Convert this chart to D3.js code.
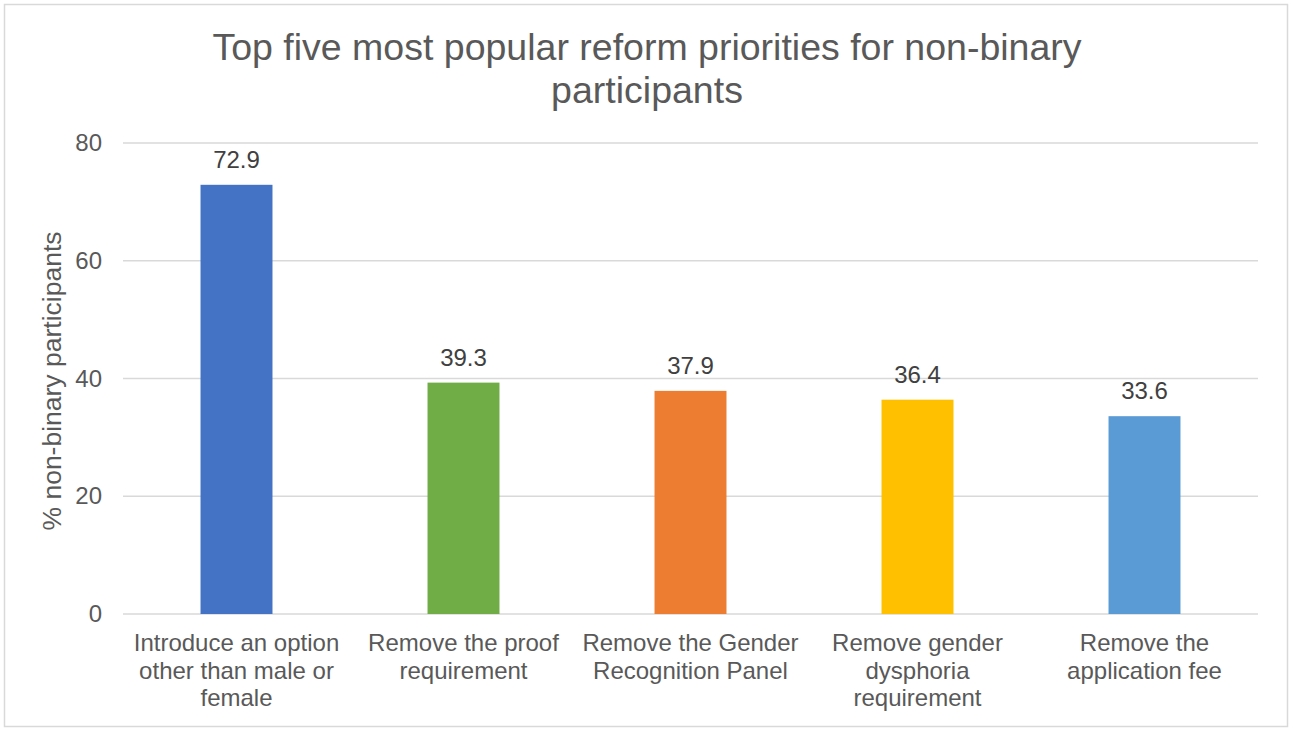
<!DOCTYPE html>
<html>
<head>
<meta charset="utf-8">
<script src="https://cdn.jsdelivr.net/npm/d3@7"></script>
<style>
	body { margin: 0; background: #fff; }
	text { font-family: "Liberation Sans", Arial, sans-serif; }
</style>
</head>
<body>
<script>
var categories = [
	'Introduce an option\nother than male or\nfemale',
	'Remove the proof\nrequirement',
	'Remove the Gender\nRecognition Panel',
	'Remove gender\ndysphoria\nrequirement',
	'Remove the\napplication fee'
];
var values = [72.9, 39.3, 37.9, 36.4, 33.6];
var barColors = ['#4472C4', '#70AD47', '#ED7D31', '#FFC000', '#5B9BD5'];
var yTicks = [0, 20, 40, 60, 80];
var titleLines = ['Top five most popular reform priorities for non-binary', 'participants'];
var yTitle = '% non-binary participants';

var width = 1294, height = 729;
var margin = { left: 123, right: 1294 - 1258, top: 143, bottom: 729 - 614 };

var svg = d3.select('body')
	.append('svg')
	.attr('width', width)
	.attr('height', height);

svg.append('rect')
	.attr('x', 4.5)
	.attr('y', 4.5)
	.attr('width', 1283)
	.attr('height', 722)
	.attr('fill', '#fff')
	.attr('stroke', '#d9d9d9')
	.attr('stroke-width', 1.5);

var x = d3.scaleBand()
	.domain(categories)
	.range([margin.left, width - margin.right])
	.padding(0);

var y = d3.scaleLinear()
	.domain([0, 80])
	.range([height - margin.bottom, margin.top]);

var barWidth = x.bandwidth() * 0.317;

// gridlines
svg.append('g')
	.selectAll('line')
	.data(yTicks)
	.enter()
	.append('line')
	.attr('x1', margin.left)
	.attr('x2', width - margin.right)
	.attr('y1', function(d) { return y(d); })
	.attr('y2', function(d) { return y(d); })
	.attr('stroke', '#d9d9d9')
	.attr('stroke-width', 1.5);

// y axis labels
var yAxis = svg.append('g')
	.attr('transform', 'translate(' + margin.left + ',0)')
	.call(d3.axisLeft(y).tickValues(yTicks).tickSize(0).tickPadding(21));
yAxis.select('.domain').remove();
yAxis.selectAll('text')
	.attr('fill', '#595959')
	.style('font-size', '24px')
	.style('font-family', '"Liberation Sans", Arial, sans-serif');

// bars
svg.append('g')
	.selectAll('rect')
	.data(values)
	.enter()
	.append('rect')
	.attr('x', function(d, i) { return x(categories[i]) + (x.bandwidth() - barWidth) / 2; })
	.attr('y', function(d) { return y(d); })
	.attr('width', barWidth)
	.attr('height', function(d) { return y(0) - y(d); })
	.attr('fill', function(d, i) { return barColors[i]; });

// value labels
svg.append('g')
	.selectAll('text')
	.data(values)
	.enter()
	.append('text')
	.text(function(d) { return d.toFixed(1); })
	.attr('text-anchor', 'middle')
	.attr('x', function(d, i) { return x(categories[i]) + x.bandwidth() / 2; })
	.attr('y', function(d) { return y(d) - 17; })
	.attr('fill', '#404040')
	.style('font-size', '24px');

// category labels
var cat = svg.append('g')
	.selectAll('text')
	.data(categories)
	.enter()
	.append('text')
	.attr('text-anchor', 'middle')
	.attr('fill', '#595959')
	.style('font-size', '24px')
	.attr('x', function(d) { return x(d) + x.bandwidth() / 2; })
	.attr('y', 651);

cat.selectAll('tspan')
	.data(function(d) { return d.split('\n'); })
	.enter()
	.append('tspan')
	.attr('x', function() { return d3.select(this.parentNode).attr('x'); })
	.attr('dy', function(d, i) { return i === 0 ? 0 : 27.5; })
	.text(function(d) { return d; });

// y axis title
svg.append('text')
	.attr('transform', 'translate(61,381) rotate(-90)')
	.attr('text-anchor', 'middle')
	.attr('fill', '#595959')
	.style('font-size', '26.5px')
	.text(yTitle);

// chart title
svg.append('g')
	.selectAll('text')
	.data(titleLines)
	.enter()
	.append('text')
	.attr('text-anchor', 'middle')
	.attr('x', 647)
	.attr('y', function(d, i) { return 60 + i * 43; })
	.attr('fill', '#595959')
	.style('font-size', '37.5px')
	.text(function(d) { return d; });
</script>
</body>
</html>
